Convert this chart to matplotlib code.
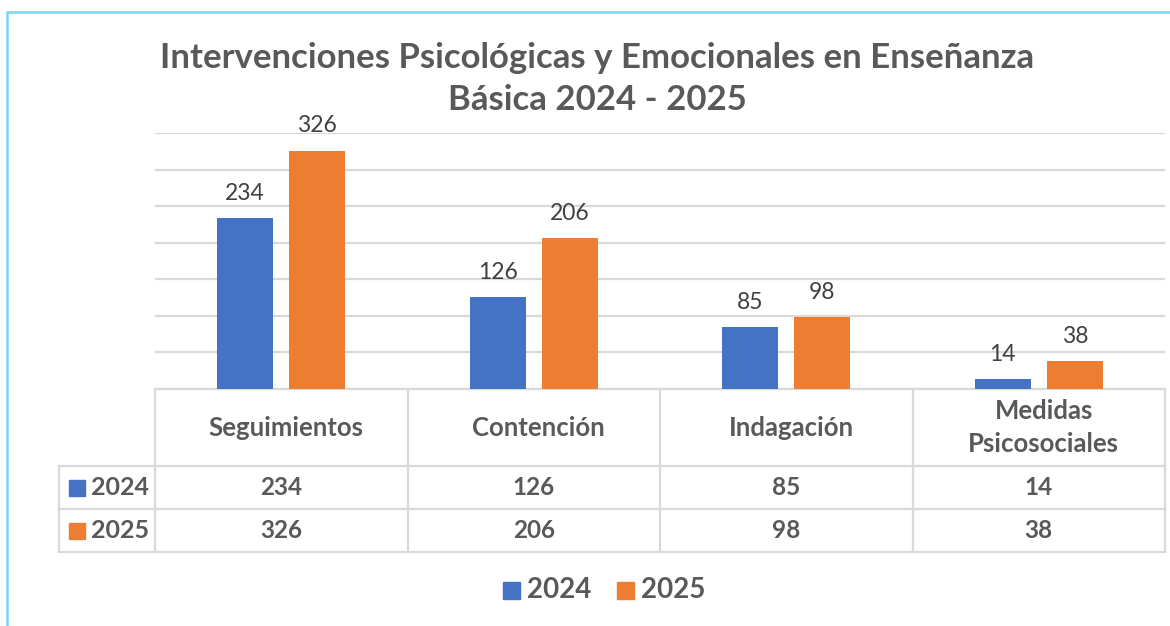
import matplotlib
matplotlib.use("Agg")
import matplotlib.pyplot as plt
from matplotlib.patches import Rectangle
from matplotlib.transforms import blended_transform_factory
import numpy as np

categories = ["Seguimientos", "Contención", "Indagación", "Medidas\nPsicosociales"]
series_names = ["2024", "2025"]
values_2024 = [234, 126, 85, 14]
values_2025 = [326, 206, 98, 38]
y_ticks = [0, 50, 100, 150, 200, 250, 300, 350]
title_lines = ["Intervenciones Psicológicas y Emocionales en Enseñanza",
               "Básica 2024 - 2025"]

BLUE = "#4472C4"
ORANGE = "#ED7D31"
GRID = "#D9D9D9"
TXT = "#595959"
LBL = "#404040"
FONT = "Lato"

W, H = 1170, 626
fig = plt.figure(figsize=(W / 100, H / 100), dpi=100)
plt.rcParams['font.family'] = [FONT, 'DejaVu Sans']

def fy(py):  # pixel row (from top) -> figure fraction
    return 1 - py / H

def fx(px):
    return px / W

# chart frame (only left and top visible)
fig.patches.append(Rectangle((fx(7), fy(640)), fx(1200), fy(12) - fy(640),
                             transform=fig.transFigure, fill=False,
                             edgecolor="#7DD3F4", linewidth=1.8))

ax_l, ax_r, ax_t, ax_b = 155, 1165, 133, 389
ax = fig.add_axes([fx(ax_l), fy(ax_b), fx(ax_r - ax_l), fy(ax_t) - fy(ax_b)])
x = np.arange(len(categories))
bw = 0.222
off = 0.143
ax.bar(x - off, values_2024, bw, color=BLUE, zorder=3)
ax.bar(x + off, values_2025, bw, color=ORANGE, zorder=3)
for xs, vals in ((x - off, values_2024), (x + off, values_2025)):
    for xi, v in zip(xs, vals):
        ax.annotate(str(v), (xi, v), xytext=(0, 13), textcoords="offset points",
                    ha="center", va="baseline", fontsize=16.5, color=LBL)

ax.set_xlim(-0.5, len(categories) - 0.5)
ax.set_ylim(0, 350)
ax.set_yticks(y_ticks)
ax.yaxis.grid(True, color=GRID, linewidth=1.6, zorder=0)
ax.tick_params(left=False, bottom=False, labelleft=False, labelbottom=False)
for s in ax.spines.values():
    s.set_visible(False)

# data table below the plot
tr = blended_transform_factory(ax.transData, fig.transFigure)
row_top, row_hdr, row_1, row_2 = 389, 466, 509, 552
left_col = 59
lw = 1.6
edges = np.arange(len(categories) + 1) - 0.5
ax.plot([edges[0], edges[-1]], [fy(row_top)] * 2, transform=tr, color=GRID, lw=lw, clip_on=False)
for r in (row_hdr, row_1, row_2):
    fig.add_artist(plt.Line2D([fx(left_col), fx(ax_r)], [fy(r)] * 2, color=GRID, lw=lw))
for e in edges:
    ax.plot([e, e], [fy(row_top), fy(row_2)], transform=tr, color=GRID, lw=lw, clip_on=False)
fig.add_artist(plt.Line2D([fx(left_col)] * 2, [fy(row_hdr), fy(row_2)], color=GRID, lw=lw))

for xi, c in zip(x, categories):
    ax.text(xi + 0.02, fy((row_top + row_hdr) / 2), c, transform=tr, ha="center", va="center",
            fontsize=18.5, fontweight="bold", color=TXT, linespacing=1.42, clip_on=False)
for vals, r0, r1 in ((values_2024, row_hdr, row_1), (values_2025, row_1, row_2)):
    for xi, v in zip(x, vals):
        ax.text(xi, fy((r0 + r1) / 2), str(v), transform=tr, ha="center", va="center",
                fontsize=17.5, fontweight="bold", color=TXT, clip_on=False)

for name, col, r0, r1 in ((series_names[0], BLUE, row_hdr, row_1),
                          (series_names[1], ORANGE, row_1, row_2)):
    yc = (r0 + r1) / 2
    fig.patches.append(Rectangle((fx(69), fy(yc + 8)), fx(16), fy(yc - 8) - fy(yc + 8),
                                 transform=fig.transFigure, color=col))
    fig.text(fx(91), fy(yc), name, ha="left", va="center", fontsize=18,
             fontweight="bold", color=TXT)

# legend
for name, col, px in ((series_names[0], BLUE, 503), (series_names[1], ORANGE, 617)):
    fig.patches.append(Rectangle((fx(px), fy(599)), fx(17), fy(582) - fy(599),
                                 transform=fig.transFigure, color=col))
    fig.text(fx(px + 24), fy(590), name, ha="left", va="center", fontsize=20,
             fontweight="bold", color=TXT)

for line, base in zip(title_lines, (68, 110)):
    fig.text(fx(597), fy(base), line, ha="center", va="baseline", fontsize=25,
             fontweight="bold", color=TXT)

fig.savefig("out.png", dpi=100, facecolor="white")
